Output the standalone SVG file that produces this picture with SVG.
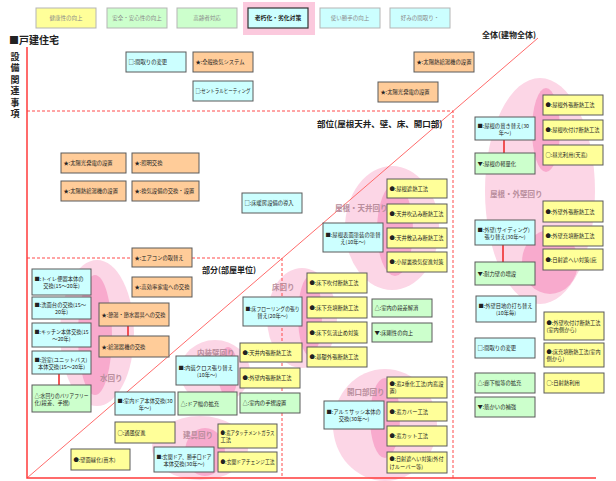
<svg xmlns="http://www.w3.org/2000/svg" width="616" height="481" viewBox="0 0 616 481">
<style>
text{font-family:'Noto Sans CJK JP','Noto Sans',sans-serif;fill:#222}
.t{font-size:5.3px}
.lg{font-size:5.5px;fill:#8a8a8a}
.box{stroke:#5a5a5a;stroke-width:1}
.lgb{stroke:#b5b5b5;stroke-width:1}
.y{fill:#ffff99}.o{fill:#ffcc99}.c{fill:#ccffff}.g{fill:#ccffcc}
.lp{fill:#fcd6e6}.dp{fill:#f8aacd}
.area{font-size:7.5px;font-weight:bold;fill:#b98e9d}
.reg{font-size:8px;font-weight:bold;fill:#222}
.red{stroke:#ff3b3b;stroke-width:1.5;fill:none}
.dash{stroke:#ff4a4a;stroke-width:1;stroke-dasharray:3 2;fill:none}
.diag{stroke:#ff6b6b;stroke-width:1;fill:none}
.con{stroke:#ee2222;stroke-width:1.5}
.mid{text-anchor:middle}
</style>

<!-- legend -->
<g id="legend">
<rect x="243" y="2" width="72" height="33" fill="#fbc9dd"/>
<g id="lg1"><rect class="lgb y" x="36" y="8" width="60" height="20"/><text class="lg mid" x="66" y="20">健康性の向上</text></g>
<g id="lg2"><rect class="lgb g" x="107" y="8" width="60" height="20"/><text class="lg mid" x="137" y="20">安全・安心性の向上</text></g>
<g id="lg3"><rect class="lgb g" x="177" y="8" width="60" height="20"/><text class="lg mid" x="207" y="20">高齢者対応</text></g>
<g id="lg4"><rect class="c" x="248" y="8" width="60" height="20" stroke="#333" stroke-width="1.2"/><text class="mid" x="278" y="20" style="font-size:5.8px;font-weight:bold">老朽化・劣化対策</text></g>
<g id="lg5"><rect class="lgb c" x="320" y="8" width="60" height="20"/><text class="lg mid" x="350" y="20">使い勝手の向上</text></g>
<g id="lg6"><rect class="lgb c" x="390" y="8" width="60" height="20"/><text class="lg mid" x="420" y="20">好みの間取り・</text></g>
</g>

<!-- headings -->
<text x="9" y="44" style="font-size:10px;font-weight:bold">■戸建住宅</text>
<text x="15" y="52" style="font-size:9px;font-weight:bold;writing-mode:vertical-rl;letter-spacing:2.4px">設備関連事項</text>

<!-- pink areas -->
<g id="areas">
<ellipse class="lp" cx="540" cy="191" rx="55" ry="113"/>
<ellipse class="dp" cx="546" cy="130" rx="14" ry="42"/>
<ellipse class="dp" cx="550" cy="262" rx="28" ry="32"/>
<ellipse class="lp" cx="392" cy="228" rx="47" ry="62"/>
<ellipse class="dp" cx="395" cy="230" rx="18" ry="46"/>
<ellipse class="lp" cx="302" cy="318" rx="35" ry="50"/>
<ellipse class="dp" cx="310" cy="316" rx="12" ry="40"/>
<ellipse class="lp" cx="97" cy="333" rx="37" ry="73"/>
<ellipse class="dp" cx="95" cy="335" rx="17" ry="60"/>
<ellipse class="lp" cx="215" cy="372" rx="35" ry="32"/>
<ellipse class="dp" cx="228" cy="372" rx="10" ry="25"/>
<ellipse class="lp" cx="200" cy="448" rx="48" ry="32"/>
<ellipse class="dp" cx="205" cy="452" rx="20" ry="24"/>
<ellipse class="lp" cx="385" cy="425" rx="52" ry="56"/>
<ellipse class="dp" cx="385" cy="418" rx="15" ry="40"/>
</g>

<!-- frame lines -->
<g id="frame">
<line class="diag" x1="27" y1="478" x2="538" y2="38"/>
<path class="dash" d="M27 111H453V478"/>
<path class="dash" d="M27 258H282V478"/>
<path class="red" d="M27 47V478H596"/>
</g>

<!-- region / area labels -->
<text class="reg" x="482" y="38">全体(建物全体)</text>
<text class="reg" x="317" y="127" style="font-size:8.5px">部位(屋根天井、壁、床、開口部)</text>
<text class="reg" x="202" y="273">部分(部屋単位)</text>
<text class="area" x="335" y="211">屋根・天井回り</text>
<text class="area" x="490" y="197">屋根・外壁回り</text>
<text class="area" x="272" y="290">床回り</text>
<text class="area" x="100" y="381">水回り</text>
<text class="area" x="197" y="356">内装壁回り</text>
<text class="area" x="183" y="438">建具回り</text>
<text class="area" x="347" y="395">開口部回り</text>

<!-- connectors -->
<g id="connectors">
<line class="con" x1="59" y1="374" x2="59" y2="385"/>
<line class="con" x1="128" y1="326" x2="128" y2="336"/>
<line class="con" x1="504" y1="140" x2="504" y2="153"/>
<line class="con" x1="503" y1="245" x2="503" y2="262"/>
</g>

<!-- top equipment -->
<g id="A1"><rect class="box c" x="126" y="52" width="60" height="20"/><text class="t" x="128.5" y="64">□:間取りの変更</text></g>
<g id="A2"><rect class="box o" x="193" y="52" width="60" height="20"/><text class="t" x="195.5" y="64">★:全般換気システム</text></g>
<g id="A3"><rect class="box c" x="193" y="81" width="60" height="20"/><text class="t" x="195.5" y="93" textLength="55" lengthAdjust="spacingAndGlyphs">□:セントラルヒーティング</text></g>
<g id="A4"><rect class="box o" x="414" y="52" width="60" height="20"/><text class="t" x="416.5" y="64" textLength="55" lengthAdjust="spacingAndGlyphs">★:太陽熱給湯機の設置</text></g>
<g id="A5"><rect class="box o" x="378" y="82" width="60" height="20"/><text class="t" x="380.5" y="94">★:太陽光発電の設置</text></g>

<g id="B1"><rect class="box o" x="61" y="153" width="65" height="20"/><text class="t" x="63.5" y="165">★:太陽光発電の設置</text></g>
<g id="B2"><rect class="box o" x="132" y="153" width="67" height="20"/><text class="t" x="134.5" y="165">★:照明交換</text></g>
<g id="B3"><rect class="box o" x="61" y="181" width="65" height="20"/><text class="t" x="63.5" y="193">★:太陽熱給湯機の設置</text></g>
<g id="B4"><rect class="box o" x="132" y="181" width="67" height="20"/><text class="t" x="134.5" y="193">★:換気設備の交換・設置</text></g>
<g id="B5"><rect class="box c" x="242" y="193" width="60" height="20"/><text class="t" x="244.5" y="205">□:床暖房設備の導入</text></g>
<g id="B6"><rect class="box o" x="132" y="248" width="60" height="19"/><text class="t" x="134.5" y="259.5">★:エアコンの取替え</text></g>
<g id="B7"><rect class="box o" x="132" y="277" width="60" height="20"/><text class="t" x="134.5" y="289" textLength="55" lengthAdjust="spacingAndGlyphs">★:高効率家電への交換</text></g>

<!-- water -->
<g id="W1"><rect class="box c" x="32" y="269" width="59" height="26"/><text class="t" x="34.5" y="281.2">■:トイレ便器本体の</text><text class="t mid" x="61.5" y="288">交換(15～20年)</text></g>
<g id="W2"><rect class="box c" x="32" y="297" width="59" height="22"/><text class="t" x="34.5" y="307.2">■:洗面台の交換(15～</text><text class="t mid" x="61.5" y="314">20年)</text></g>
<g id="W3"><rect class="box c" x="32" y="323" width="59" height="24"/><text class="t" x="34.5" y="334.2" textLength="54" lengthAdjust="spacingAndGlyphs">■:キッチン本体交換(15</text><text class="t mid" x="61.5" y="341">～20年)</text></g>
<g id="W4"><rect class="box c" x="32" y="351" width="59" height="23"/><text class="t" x="34.5" y="361.7">■:浴室(ユニットバス)</text><text class="t mid" x="61.5" y="368.5">本体交換(15～20年)</text></g>
<g id="W5"><rect class="box g" x="32" y="385" width="59" height="27"/><text class="t" x="34.5" y="397.7" textLength="54" lengthAdjust="spacingAndGlyphs">△:水回りのバリアフリー</text><text class="t" x="34.5" y="404.5">化(段差、手摺)</text></g>
<g id="W6"><rect class="box o" x="99" y="303" width="70" height="23"/><text class="t" x="101.5" y="316.5" textLength="64" lengthAdjust="spacingAndGlyphs">★:節湯・節水器具への交換</text></g>
<g id="W7"><rect class="box o" x="99" y="336" width="70" height="21"/><text class="t" x="101.5" y="348.5">★:給湯器機の交換</text></g>

<!-- interior / fittings -->
<g id="I1"><rect class="box c" x="176" y="356" width="62" height="29"/><text class="t" x="178.5" y="369.7">■:内装クロス張り替え</text><text class="t mid" x="207" y="376.5">(10年～)</text></g>
<g id="I2"><rect class="box y" x="240" y="343" width="62" height="19"/><text class="t" x="242.5" y="354.5">●:天井内張断熱工法</text></g>
<g id="I3"><rect class="box y" x="240" y="368" width="60" height="20"/><text class="t" x="242.5" y="380">●:外壁内張断熱工法</text></g>
<g id="I4"><rect class="box g" x="178" y="392" width="59" height="23"/><text class="t" x="180.5" y="405.5">△:ドア幅の拡充</text></g>
<g id="I5"><rect class="box g" x="240" y="393" width="60" height="20"/><text class="t" x="242.5" y="405">△:室内の手摺設置</text></g>
<g id="I6"><rect class="box c" x="115" y="392" width="60" height="23"/><text class="t" x="117.5" y="402.7" textLength="55" lengthAdjust="spacingAndGlyphs">■:室内ドア本体交換(30</text><text class="t mid" x="145" y="409.5">年～)</text></g>
<g id="I7"><rect class="box y" x="115" y="422" width="60" height="21"/><text class="t" x="117.5" y="434.5">○:通風促進</text></g>
<g id="I8"><rect class="box y" x="71" y="449" width="59" height="21"/><text class="t" x="73.5" y="461.5">●:壁面緑化(苗木)</text></g>
<g id="I9"><rect class="box c" x="154" y="447" width="60" height="25"/><text class="t" x="156.5" y="458.7" textLength="55" lengthAdjust="spacingAndGlyphs">■:玄関ドア、勝手口ドア</text><text class="t mid" x="184" y="465.5">本体交換(30年～)</text></g>
<g id="I10"><rect class="box y" x="218" y="424" width="59" height="24"/><text class="t" x="220.5" y="435.2" textLength="54" lengthAdjust="spacingAndGlyphs">●:窓アタッチメントガラス</text><text class="t" x="220.5" y="442">工法</text></g>
<g id="I11"><rect class="box y" x="218" y="452" width="59" height="20"/><text class="t" x="220.5" y="464" textLength="54" lengthAdjust="spacingAndGlyphs">●:玄関ドアチェンジ工法</text></g>

<!-- floor -->
<g id="F1"><rect class="box c" x="243" y="297" width="59" height="29"/><text class="t" x="245.5" y="310.7" textLength="54" lengthAdjust="spacingAndGlyphs">■:床フローリングの張り</text><text class="t mid" x="272.5" y="317.5">替え(20年～)</text></g>
<g id="F2"><rect class="box y" x="307" y="273" width="60" height="20"/><text class="t" x="309.5" y="285">●:床下吹付断熱工法</text></g>
<g id="F3"><rect class="box y" x="307" y="297" width="60" height="21"/><text class="t" x="309.5" y="309.5">●:床下充填断熱工法</text></g>
<g id="F4"><rect class="box y" x="307" y="322" width="60" height="21"/><text class="t" x="309.5" y="334.5">●:床下気流止め対策</text></g>
<g id="F5"><rect class="box y" x="307" y="347" width="60" height="20"/><text class="t" x="309.5" y="359">●:基礎外張断熱工法</text></g>
<g id="F6"><rect class="box g" x="372" y="299" width="60" height="18"/><text class="t" x="374.5" y="310">△:室内の段差解消</text></g>
<g id="F7"><rect class="box g" x="372" y="323" width="60" height="19"/><text class="t" x="374.5" y="334.5">▼:床剛性の向上</text></g>

<!-- roof / ceiling -->
<g id="R1"><rect class="box c" x="323" y="223" width="60" height="29"/><text class="t" x="325.5" y="236.7" textLength="55" lengthAdjust="spacingAndGlyphs">■:屋根表面塗装の塗替</text><text class="t mid" x="353" y="243.5">え(10年～)</text></g>
<g id="R2"><rect class="box y" x="387" y="179" width="60" height="19"/><text class="t" x="389.5" y="190.5">●:屋根遮熱工法</text></g>
<g id="R3"><rect class="box y" x="387" y="204" width="60" height="19"/><text class="t" x="389.5" y="215.5" textLength="54" lengthAdjust="spacingAndGlyphs">●:天井吹込み断熱工法</text></g>
<g id="R4"><rect class="box y" x="387" y="228" width="60" height="20"/><text class="t" x="389.5" y="240" textLength="54" lengthAdjust="spacingAndGlyphs">●:天井敷込み断熱工法</text></g>
<g id="R5"><rect class="box y" x="387" y="252" width="60" height="20"/><text class="t" x="389.5" y="264" textLength="54" lengthAdjust="spacingAndGlyphs">●:小屋裏換気促進対策</text></g>

<!-- openings -->
<g id="O1"><rect class="box c" x="324" y="401" width="60" height="28"/><text class="t" x="326.5" y="414.2">■:アルミサッシ本体の</text><text class="t mid" x="354" y="421">交換(30年～)</text></g>
<g id="O2"><rect class="box y" x="387" y="377" width="60" height="21"/><text class="t" x="389.5" y="385.5" textLength="54" lengthAdjust="spacingAndGlyphs">●:窓2重化工法(内窓設</text><text class="t" x="389.5" y="393">置)</text></g>
<g id="O3"><rect class="box y" x="387" y="402" width="60" height="19"/><text class="t" x="389.5" y="413.5">●:窓カバー工法</text></g>
<g id="O4"><rect class="box y" x="387" y="426" width="60" height="20"/><text class="t" x="389.5" y="438">●:窓カット工法</text></g>
<g id="O5"><rect class="box y" x="387" y="452" width="60" height="21"/><text class="t" x="389.5" y="461.2" textLength="54" lengthAdjust="spacingAndGlyphs">●:日射遮へい対策(外付</text><text class="t" x="389.5" y="468.5">けルーバー等)</text></g>

<!-- whole building -->
<g id="G1"><rect class="box c" x="475" y="117" width="60" height="23"/><text class="t" x="477.5" y="127.7">■:屋根の葺き替え(30</text><text class="t mid" x="505" y="134.5">年～)</text></g>
<g id="G2"><rect class="box y" x="543" y="95" width="60" height="20"/><text class="t" x="545.5" y="107">●:屋根外張断熱工法</text></g>
<g id="G3"><rect class="box y" x="543" y="120" width="60" height="20"/><text class="t" x="545.5" y="132" textLength="54" lengthAdjust="spacingAndGlyphs">●:屋根吹付け断熱工法</text></g>
<g id="G4"><rect class="box y" x="543" y="145" width="60" height="20"/><text class="t" x="545.5" y="157">○:昼光利用(天窓)</text></g>
<g id="G5"><rect class="box g" x="475" y="153" width="60" height="21"/><text class="t" x="477.5" y="165.5">▼:屋根の軽量化</text></g>
<g id="G6"><rect class="box y" x="543" y="201" width="60" height="21"/><text class="t" x="545.5" y="213.5">●:外壁外張断熱工法</text></g>
<g id="G7"><rect class="box y" x="543" y="226" width="60" height="20"/><text class="t" x="545.5" y="238">●:外壁充填断熱工法</text></g>
<g id="G8"><rect class="box y" x="543" y="249" width="60" height="21"/><text class="t" x="545.5" y="261.5">●:日射遮へい対策(庇</text></g>
<g id="G9"><rect class="box c" x="475" y="220" width="60" height="25"/><text class="t" x="477.5" y="231.7">■:外壁(サイディング)</text><text class="t mid" x="505" y="238.5">張り替え(30年～)</text></g>
<g id="G10"><rect class="box g" x="475" y="262" width="60" height="23"/><text class="t" x="477.5" y="275.5">▼:耐力壁の増設</text></g>
<g id="G11"><rect class="box c" x="476" y="296" width="60" height="26"/><text class="t" x="478.5" y="308.2" textLength="54" lengthAdjust="spacingAndGlyphs">■:外壁目地の打ち替え</text><text class="t mid" x="506" y="315">(10年毎)</text></g>
<g id="G12"><rect class="box y" x="544" y="312" width="60" height="28"/><text class="t" x="546.5" y="325.2" textLength="54" lengthAdjust="spacingAndGlyphs">●:外壁吹付け断熱工法</text><text class="t" x="546.5" y="332">(室内側から)</text></g>
<g id="G13"><rect class="box c" x="475" y="338" width="60" height="20"/><text class="t" x="477.5" y="350">□:間取りの変更</text></g>
<g id="G14"><rect class="box y" x="544" y="343" width="60" height="24"/><text class="t" x="546.5" y="354.2" textLength="54" lengthAdjust="spacingAndGlyphs">●:床充填断熱工法(室内</text><text class="t" x="546.5" y="361">側から)</text></g>
<g id="G15"><rect class="box y" x="544" y="373" width="60" height="20"/><text class="t" x="546.5" y="385">○:日射熱利用</text></g>
<g id="G16"><rect class="box g" x="475" y="373" width="60" height="20"/><text class="t" x="477.5" y="385">△:廊下幅等の拡充</text></g>
<g id="G17"><rect class="box g" x="475" y="397" width="60" height="20"/><text class="t" x="477.5" y="409">▼:筋かいの補強</text></g>
</svg>
